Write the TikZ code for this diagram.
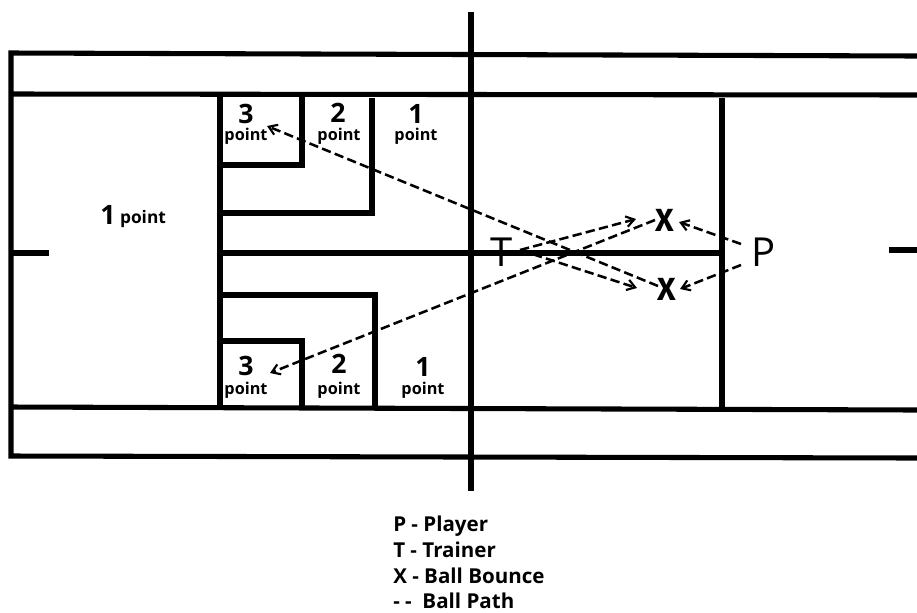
\documentclass[tikz,border=0pt]{standalone}
\usepackage{fontspec}
\setmainfont{Open Sans}
\newfontfamily\markfont{Fira Sans}
\usetikzlibrary{arrows.meta}
\tikzset{
 court/.style={line width=3.8pt,line cap=butt,line join=miter,black},
 ballpath/.style={line width=1.9pt,black,dash pattern=on 7pt off 3.2pt,-{Straight Barb[length=6pt,width=8pt,line width=1.6pt]}},
 num/.style={font=\bfseries\fontsize{20}{20}\selectfont,inner sep=0pt},
 pointlabel/.style={font=\bfseries\fontsize{12.2}{12}\selectfont,inner sep=0pt},
 marker/.style={font=\fontsize{30}{30}\selectfont,inner sep=0pt},
 bounce/.style={font=\markfont\bfseries\fontsize{24}{24}\selectfont,inner sep=0pt},
 legend/.style={font=\bfseries\fontsize{15.4}{15}\selectfont,inner sep=0pt,anchor=base west}
}
\begin{document}
\begin{tikzpicture}[x=0.75pt,y=-0.75pt]
\useasboundingbox (0,0) rectangle (917,612);
\fill[white] (0,0) rectangle (917,612);
% court
\draw[court] (917,56) -- (11,53) -- (11,456) -- (917,458);
\draw[court] (11,94) -- (917,95);
\draw[court] (11,407) -- (917,410);
\draw[court] (471,12) -- (471,491);
\draw[court] (220,94) -- (220,408);
\draw[court] (220,253) -- (722,253);
\draw[court] (722,98) -- (722,410);
\draw[court] (302,96) -- (302,165) -- (220,165);
\draw[court] (372,98) -- (372,213) -- (220,213);
\draw[court] (220,295) -- (375,295) -- (375,408);
\draw[court] (220,341) -- (302,341) -- (302,408);
\draw[court] (11,253) -- (49,253);
\draw[court] (889,250) -- (917,250);
% players and bounces
\node[marker] (T) at (502,252) {T};
\node[marker] (P) at (764,252) {P};
\node[bounce] (X1) at (665,220) {X};
\node[bounce] (X2) at (667,289) {X};
\coordinate (Tout) at (520,250);
\coordinate (X1out) at (655,220);
\coordinate (X2out) at (658,286);
\coordinate (P1) at (741,244);
\coordinate (P2) at (741,265);
\coordinate (X1in) at (679,222);
\coordinate (X2in) at (680,289);
\coordinate (X1near) at (636,219);
\coordinate (X2near) at (637,288);
\coordinate (A3top) at (267,126);
\coordinate (A3bot) at (270,373);
% ball paths
\draw[ballpath] (Tout) -- (X1near);
\draw[ballpath] (Tout) -- (X2near);
\draw[ballpath] (X1out) -- (A3bot);
\draw[ballpath] (X2out) -- (A3top);
\draw[ballpath] (P1) -- (X1in);
\draw[ballpath] (P2) -- (X2in);
% score labels
\node[num] (n3a) at (246,114) {3};
\node[pointlabel] (p3a) at (246,136) {point};
\node[num] (n2a) at (338,113) {2};
\node[pointlabel] (p2a) at (339,136) {point};
\node[num] (n1a) at (416,114) {1};
\node[pointlabel] (p1a) at (416,136) {point};
\node[num] (n3b) at (246,366) {3};
\node[pointlabel] (p3b) at (246,390) {point};
\node[num] (n2b) at (339,364) {2};
\node[pointlabel] (p2b) at (339,390) {point};
\node[num] (n1b) at (423,367) {1};
\node[pointlabel] (p1b) at (423,390) {point};
\node[num] (n1c) at (108,215) {1};
\node[pointlabel,font=\bfseries\fontsize{13}{13}\selectfont] (p1c) at (143,219) {point};
% legend
\node[legend] (l1) at (393,531) {P - Player};
\node[legend] (l2) at (393,557) {T - Trainer};
\node[legend] (l3) at (393,583) {X - Ball Bounce};
\node[legend] (l4) at (393,608) {- -\ \ Ball Path};
\end{tikzpicture}
\end{document}
